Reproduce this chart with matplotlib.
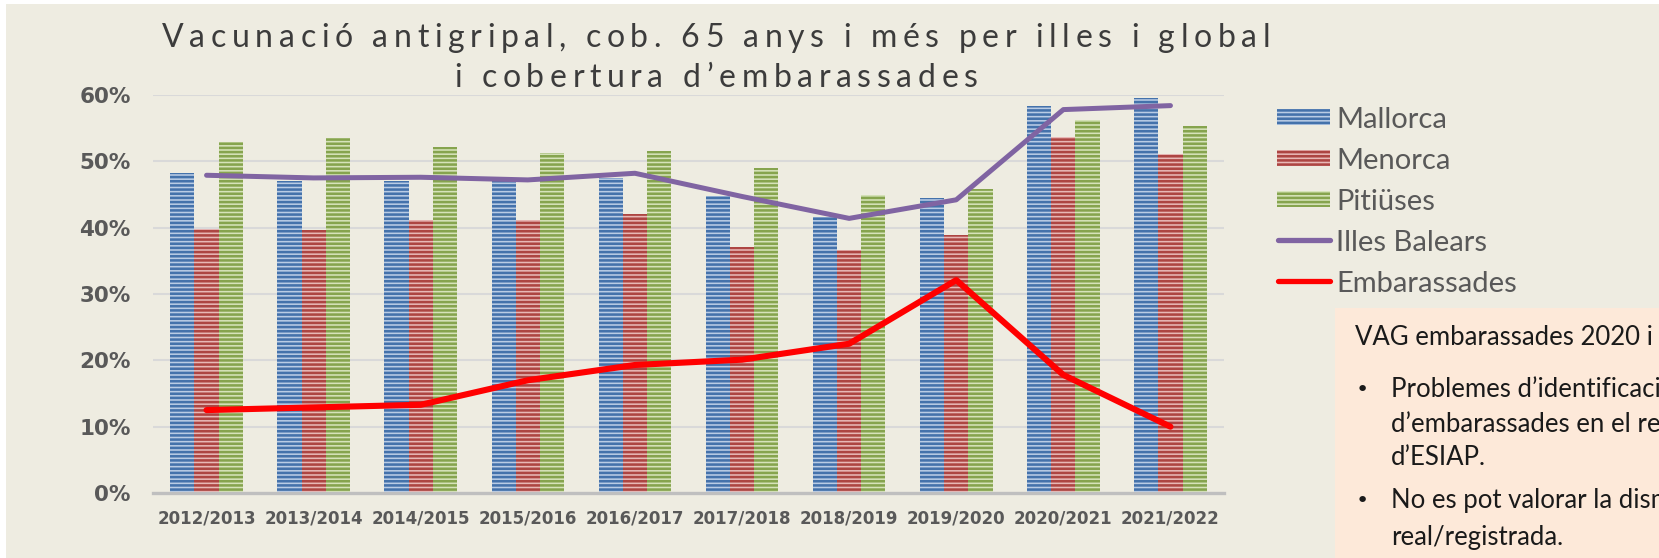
import matplotlib
matplotlib.use("Agg")
import matplotlib.pyplot as plt
from matplotlib.patches import Rectangle
from matplotlib.lines import Line2D
from matplotlib.ticker import PercentFormatter, FixedLocator
from matplotlib.font_manager import FontProperties, findfont
from matplotlib.ft2font import FT2Font

# ---- data -------------------------------------------------------------
seasons = ["2012/2013", "2013/2014", "2014/2015", "2015/2016", "2016/2017",
           "2017/2018", "2018/2019", "2019/2020", "2020/2021", "2021/2022"]
mallorca = [0.482, 0.471, 0.471, 0.470, 0.475, 0.448, 0.416, 0.445, 0.584, 0.596]
menorca = [0.398, 0.397, 0.412, 0.412, 0.421, 0.371, 0.367, 0.389, 0.536, 0.511]
pitiuses = [0.529, 0.535, 0.522, 0.512, 0.516, 0.490, 0.449, 0.458, 0.562, 0.554]
illes_balears = [0.479, 0.475, 0.476, 0.472, 0.482, 0.447, 0.414, 0.442, 0.578, 0.584]
embarassades = [0.125, 0.129, 0.133, 0.170, 0.193, 0.201, 0.225, 0.321, 0.178, 0.100]
y_ticks = [0.0, 0.1, 0.2, 0.3, 0.4, 0.5, 0.6]

title_lines = ["Vacunació antigripal, cob. 65 anys i més per illes i global",
               "i cobertura d’embarassades"]
legend_labels = ["Mallorca", "Menorca", "Pitiüses", "Illes Balears", "Embarassades"]
note_head = "VAG embarassades 2020 i 2021:"
note_bullets = [["Problemes d’identificació", "d’embarassades en el registre", "d’ESIAP."],
                ["No es pot valorar la disminució", "real/registrada."]]

# ---- styling ----------------------------------------------------------
W, H = 1659, 558
BG = "#EEECE1"
NOTE_BG = "#FDE9D9"
TXT = "#595959"
bar_styles = [("#4472AB", "#B9CCE5"),   # Mallorca: stripe, base
              ("#AD4542", "#E8B8B6"),   # Menorca
              ("#86A44E", "#D6E3BA")]   # Pitiüses
PURPLE = "#8064A2"
RED = "#FF0000"

plt.rcParams["hatch.linewidth"] = 1.85
STRIPES = "----"


def fx(px):
    return px / W


def fy(py):
    return 1 - py / H


fig = plt.figure(figsize=(W / 100, H / 100), dpi=100, facecolor="white")
fig.patches.append(Rectangle((fx(6), 0), 1, fy(4), transform=fig.transFigure,
                             facecolor=BG, edgecolor="none", zorder=-10))

ax = fig.add_axes([fx(153), fy(493), fx(1224) - fx(153), fy(95) - fy(493)])
ax.set_facecolor("none")

x = list(range(len(seasons)))
bw = 0.226
for k, (vals, (stripe, base)) in enumerate(zip([mallorca, menorca, pitiuses], bar_styles)):
    pos = [xi + (k - 1) * bw for xi in x]
    ax.bar(pos, vals, width=bw, color=base, edgecolor=stripe, linewidth=0,
           hatch=STRIPES, zorder=2)

ax.plot(x, illes_balears, color=PURPLE, lw=3.6, solid_capstyle="round",
        solid_joinstyle="round", zorder=4)
ax.plot(x, embarassades, color=RED, lw=4.4, solid_capstyle="round",
        solid_joinstyle="round", zorder=5)

ax.set_xlim(-0.5, len(seasons) - 0.5)
ax.set_ylim(0, 0.6)
ax.yaxis.set_major_locator(FixedLocator(y_ticks))
ax.yaxis.set_major_formatter(PercentFormatter(1.0, decimals=0))
ax.set_xticks(x)
ax.set_xticklabels(seasons)
ax.yaxis.grid(True, color="#D9D9D9", linewidth=1.5, zorder=0)
ax.set_axisbelow(True)
for s in ["left", "right", "top"]:
    ax.spines[s].set_visible(False)
ax.spines["bottom"].set_color("#BFBFBF")
ax.spines["bottom"].set_linewidth(2.4)
ax.spines["bottom"].set_zorder(3)
ax.tick_params(axis="y", length=0, pad=16, labelsize=15.5, labelcolor=TXT)
ax.tick_params(axis="x", length=0, pad=12, labelsize=12, labelcolor=TXT)
for lbl in ax.get_yticklabels() + ax.get_xticklabels():
    lbl.set_family("DejaVu Sans")
    lbl.set_fontweight("bold")

# ---- letter-spaced title ---------------------------------------------
title_prop = FontProperties(family="Lato", size=23)
tfont = FT2Font(findfont(title_prop))
tfont.set_size(title_prop.get_size_in_points(), fig.dpi)


def advances(text):
    return [tfont.load_char(ord(ch)).linearHoriAdvance / 65536 for ch in text]


def spaced_line(text, cx, baseline, spacing):
    adv = advances(text)
    total = sum(adv) + spacing * (len(text) - 1)
    xx = cx - total / 2
    for ch, a in zip(text, adv):
        if ch != " ":
            fig.text(fx(xx), fy(baseline), ch, fontproperties=title_prop,
                     color="#3C3C3C", ha="left", va="baseline")
        xx += a + spacing


first_adv = advances(title_lines[0])
track = (1108 - sum(first_adv)) / (len(title_lines[0]) - 1)
spaced_line(title_lines[0], 716, 47, track)
spaced_line(title_lines[1], 716, 87, track)

# ---- legend -------------------------------------------------------------
rows = [128, 169, 210, 251, 292]
for k, (stripe, base) in enumerate(bar_styles):
    cy = rows[k] - 11
    fig.patches.append(Rectangle((fx(1277), fy(cy + 8)), fx(1330) - fx(1277), fy(cy - 8) - fy(cy + 8),
                                 transform=fig.transFigure, facecolor=base,
                                 edgecolor=stripe, linewidth=0, hatch=STRIPES))
for k, col in [(3, PURPLE), (4, RED)]:
    cy = rows[k] - 11
    fig.lines.append(Line2D([fx(1278), fx(1330)], [fy(cy), fy(cy)], transform=fig.transFigure,
                            color=col, lw=3.8, solid_capstyle="round"))
for k, lab in enumerate(legend_labels):
    fig.text(fx(1336), fy(rows[k]), lab, family="Lato", size=21, color=TXT,
             ha="left", va="baseline")

# ---- note box -------------------------------------------------------------
fig.patches.append(Rectangle((fx(1335), 0), 1, fy(308), transform=fig.transFigure,
                             facecolor=NOTE_BG, edgecolor="none", zorder=-5))
note_kw = dict(family="Lato", size=18.5, color="#1A1A1A", ha="left", va="baseline")
fig.text(fx(1355), fy(345), note_head, **note_kw)
baselines = [[397, 432, 465], [508, 545]]
for lines, bls in zip(note_bullets, baselines):
    fig.text(fx(1356), fy(bls[0] - 1), "•", family="DejaVu Sans", size=16,
             color="#1A1A1A", ha="left", va="baseline")
    for ln, b in zip(lines, bls):
        fig.text(fx(1391), fy(b), ln, **note_kw)

fig.savefig("out.png", dpi=100, facecolor=fig.get_facecolor())
